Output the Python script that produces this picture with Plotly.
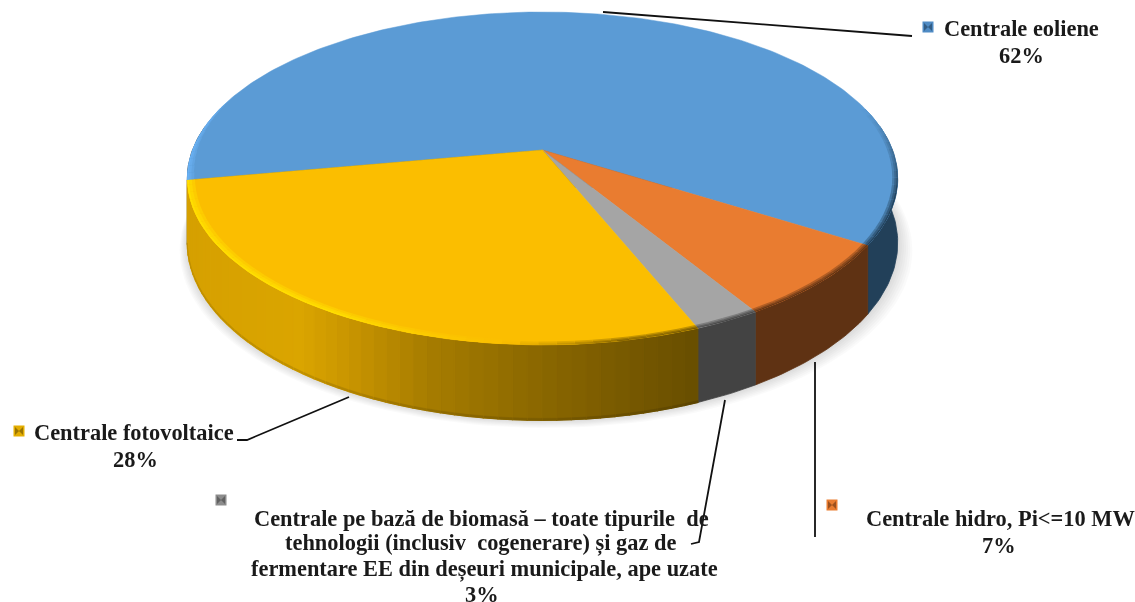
import numpy as np
import plotly.graph_objects as go

# ---- data ----
categories = ["Centrale eoliene", "Centrale hidro, Pi<=10 MW",
              "Centrale pe bază de biomasă – toate tipurile  de tehnologii (inclusiv  cogenerare) și gaz de fermentare EE din deșeuri municipale, ape uzate",
              "Centrale fotovoltaice"]
shares = [61.9, 7.3, 2.6, 28.2]
share_labels = ["62%", "7%", "3%", "28%"]

# ---- styles ----
top_colors = ["#5B9BD5", "#E97C30", "#A5A5A5", "#FBBE00"]
wall_colors = ["#224059", "#5F3213", "#434343", None]
yellow_x = [187, 300, 350, 430, 520, 600, 697]
yellow_rgb = [(214, 160, 0), (218, 165, 0), (200, 148, 0), (166, 124, 0), (143, 107, 0), (125, 93, 0), (104, 78, 0)]

CX, CY, R, H, K, D = 542.5, 150.0, 350.0, 161.6, 0.171, 62.5
START = 169.6


def project(angle_deg, r=1.0, drop=0.0):
    a = np.radians(angle_deg)
    X, Z = r * np.cos(a), r * np.sin(a)
    w = 1 - K * Z
    return CX + R * X / w, CY + (H * Z + drop) / w


def hex_rgb(c):
    return tuple(int(c[i:i + 2], 16) for i in (1, 3, 5))


def mix(a, b, t):
    return "rgb(%d,%d,%d)" % tuple(round(x + (y - x) * t) for x, y in zip(a, b))


def yellow_at(x):
    return tuple(float(np.interp(x, yellow_x, [c[k] for c in yellow_rgb])) for k in range(3))


fig = go.Figure()


def poly(xs, ys, color, opacity=1.0, line=0.6):
    fig.add_trace(go.Scatter(x=list(xs), y=list(ys), mode="lines", fill="toself", fillcolor=color,
                             line=dict(color=color, width=line), opacity=opacity,
                             hoverinfo="skip", showlegend=False))


edges = START + np.cumsum([0] + [s * 3.6 for s in shares])

# soft shadow
front = np.linspace(-15, 195, 120)
for i in range(7, 0, -1):
    sx, sy = project(front, 1.0, D)
    poly(CX + (sx - CX) * (1 + i * 0.0045) + i * 0.5, sy + i * 1.1, "#000000", 0.02, 0)

# walls
for i in range(4):
    a0, a1 = edges[i], edges[i + 1]
    if wall_colors[i] is not None:
        grid = np.linspace(a0, a1, int(a1 - a0) + 2)
        grid = grid[np.sin(np.radians(grid)) > -0.15]
        tx, ty = project(grid)
        bx, by = project(grid, 1, D)
        poly(np.r_[tx, bx[::-1], tx[0]], np.r_[ty, by[::-1], ty[0]], wall_colors[i], line=0.8)
    else:
        grid = np.arange(a0, a1 + 2, 2.0)
        grid = np.minimum(grid, a1)
        for p, q in zip(grid[:-1], grid[1:]):
            pq = np.array([p, q])
            tx, ty = project(pq)
            bx, by = project(pq, 1, D)
            base = yellow_at((tx[0] + tx[1]) / 2)
            col = mix(base, base, 0)
            poly([tx[0], tx[1], bx[1], bx[0], tx[0]], [ty[0], ty[1], by[1], by[0], ty[0]], col, line=1.2)
            ex, ey = project(pq, 1, D - 1.6)
            poly([ex[0], ex[1], bx[1], bx[0], ex[0]], [ey[0], ey[1], by[1], by[0], ey[0]],
                 mix(base, (0, 0, 0), 0.12), line=0.6)

# top slices
for i in range(4):
    arc = np.linspace(edges[i], edges[i + 1], max(3, int(shares[i] * 3.6)))
    ax, ay = project(arc)
    poly(np.r_[CX, ax, CX], np.r_[CY, ay, CY], top_colors[i], line=0.5)


def band(p, q, top, target, strength, width):
    for t in (0.4, 0.7, 1.0):
        rr = 1 - width * (1.15 - t)
        ix, iy = project(np.array([p, q]), rr)
        ox, oy = project(np.array([q, p]))
        poly(np.r_[ix, ox, ix[0]], np.r_[iy, oy, iy[0]], mix(top, target, t * strength), line=0)


# rim bevel
for i in range(4):
    grid = np.minimum(np.arange(edges[i], edges[i + 1] + 2.5, 2.5), edges[i + 1])
    top = hex_rgb(top_colors[i])
    for p, q in zip(grid[:-1], grid[1:]):
        m = ((p + q) / 2) % 360
        if i == 0 and 165 < m < 202:          # pale left rim of the blue slice
            band(p, q, top, hex_rgb("#6AB2F5"), 1.0, 0.026 * (202 - m) / 32)
        elif i == 3 and m > 95:               # bright rim of the yellow slice
            f = min(1.0, (m - 95) / 25)
            band(p, q, top, hex_rgb("#FFE000"), f, 0.028)
        elif i == 3:                          # dark rim of the yellow slice
            xm = project(m)[0]
            band(p, q, top, yellow_at(xm), min(1.0, (95 - m) / 15), 0.02)
        elif i in (1, 2) or m < 40 or m > 345:
            f = 1.0 if i else (1.0 if 15 < m < 40 else (((m - 345) % 360) / 30))
            band(p, q, top, hex_rgb(wall_colors[i]), min(f, 1.0), 0.02)

# leader lines
leaders = [
    ([603, 880, 912], [12, 34, 36]),
    ([815, 815], [362, 537]),
    ([725, 699, 691], [400, 542, 544]),
    ([349, 247, 237], [397, 440, 440]),
]
for lx, ly in leaders:
    fig.add_trace(go.Scatter(x=lx, y=ly, mode="lines", line=dict(color="#111111", width=1.8),
                             hoverinfo="skip", showlegend=False))

# legend keys
key_x = [928, 832, 221, 19]
key_y = [27, 505, 500, 431]
key_colors = ["#4F8BC4", "#E97C30", "#8C8C8C", "#E3AD00"]
key_dark = ["#1F3F5E", "#6A3513", "#444444", "#6B5000"]
fig.add_trace(go.Scatter(x=key_x, y=key_y, mode="markers",
                         marker=dict(symbol="square", size=11, color=key_colors, line=dict(width=0)),
                         hoverinfo="skip", showlegend=False))
fig.add_trace(go.Scatter(x=key_x, y=key_y, mode="markers",
                         marker=dict(symbol="bowtie", size=8, color=key_dark, opacity=0.6, line=dict(width=0)),
                         hoverinfo="skip", showlegend=False))

# labels
label_lines = [
    (categories[0], 1021, 28), (share_labels[0], 1021, 55),
    (categories[1], 1000, 518), (share_labels[1], 999, 545),
    ("Centrale pe bază de biomasă – toate tipurile  de", 481, 518),
    ("tehnologii (inclusiv  cogenerare) și gaz de", 480, 543),
    ("fermentare EE din deșeuri municipale, ape uzate", 484, 569),
    (share_labels[2], 482, 594),
    (categories[3], 134, 432), (share_labels[3], 135, 459),
]
for txt, x, y in label_lines:
    fig.add_annotation(x=x, y=y, text="<b>" + txt.replace("  ", "&nbsp; ").replace("<=", "&lt;=") + "</b>",
                       showarrow=False, xanchor="center", yanchor="middle",
                       font=dict(family="Liberation Serif", size=22.4, color="#1A1A1A"))

fig.update_layout(width=1135, height=602, margin=dict(l=0, r=0, t=0, b=0),
                  paper_bgcolor="white", plot_bgcolor="white", showlegend=False,
                  xaxis=dict(range=[0, 1135], visible=False, fixedrange=True),
                  yaxis=dict(range=[602, 0], visible=False, fixedrange=True))

fig.write_html("out.html", config={"displayModeBar": False},
               post_script="document.body.style.margin='0';document.body.style.overflow='hidden';"
                           "document.querySelector('.plotly-graph-div').style.filter='blur(0.6px)';")
